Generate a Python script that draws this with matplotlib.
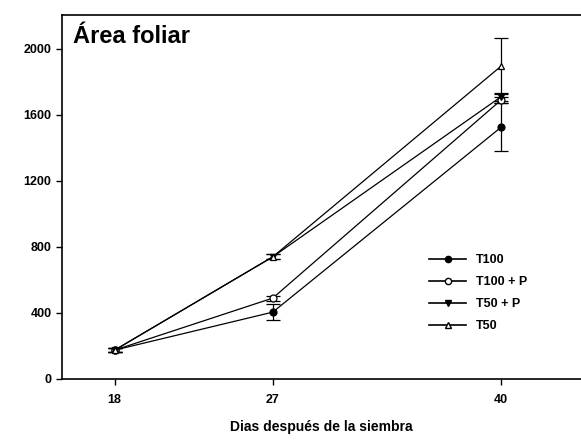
import matplotlib
matplotlib.use("Agg")
import matplotlib.pyplot as plt
from matplotlib.lines import Line2D

plt.rcParams['font.family'] = ['Liberation Sans', 'DejaVu Sans']

# =====================
# Data
# =====================
dias = [18, 27, 40]

t100 = [175, 405, 1525]
t100_err = [10, 50, 145]

t100p = [175, 490, 1690]
t100p_err = [10, 15, 20]

t50p = [175, 740, 1710]
t50p_err = [10, 15, 25]

t50 = [175, 740, 1895]
t50_err = [10, 15, 170]

series = [
    ("T100", t100, t100_err, 'o', 'black'),
    ("T100 + P", t100p, t100p_err, 'o', 'white'),
    ("T50 + P", t50p, t50p_err, 'v', 'black'),
    ("T50", t50, t50_err, '^', 'white'),
]

# =====================
# Plot
# =====================
fig = plt.figure(figsize=(5.81, 4.41), dpi=100)
ax = fig.add_axes([0.1067, 0.1406, 0.8933, 0.8254])

handles = []
for name, vals, err, mk, fc in series:
    ax.errorbar(dias, vals, yerr=err, color='black', lw=0.9,
                marker=mk, markersize=5, markerfacecolor=fc,
                markeredgecolor='black', markeredgewidth=0.9,
                capsize=5, elinewidth=0.9, capthick=0.9)
    handles.append(Line2D([], [], color='black', lw=1.2, marker=mk,
                          markersize=4.5, markerfacecolor=fc,
                          markeredgecolor='black', label=name))

ax.set_xlim(15, 44.55)
ax.set_ylim(0, 2205)
ax.set_xticks(dias)
ax.set_yticks([0, 400, 800, 1200, 1600, 2000])
ax.spines['right'].set_visible(False)
for s in ['left', 'bottom', 'top']:
    ax.spines[s].set_linewidth(1.2)
ax.tick_params(direction='out', length=4, width=1, labelsize=9)
ax.tick_params(axis='x', pad=7)
for lbl in ax.get_xticklabels() + ax.get_yticklabels():
    lbl.set_fontweight('bold')

ax.set_xlabel("Dias después de la siembra", fontsize=10, fontweight='bold',
              labelpad=10)
ax.text(0.021, 0.923, "Área foliar", transform=ax.transAxes, fontsize=17,
        fontweight='bold', va='baseline', ha='left')

leg = ax.legend(handles=handles, loc='lower left',
                bbox_to_anchor=(0.685, 0.098), frameon=False,
                prop={'size': 9, 'weight': 'bold'}, handlelength=3.0,
                labelspacing=0.8, handletextpad=0.8)

plt.savefig("out.png", dpi=100)
